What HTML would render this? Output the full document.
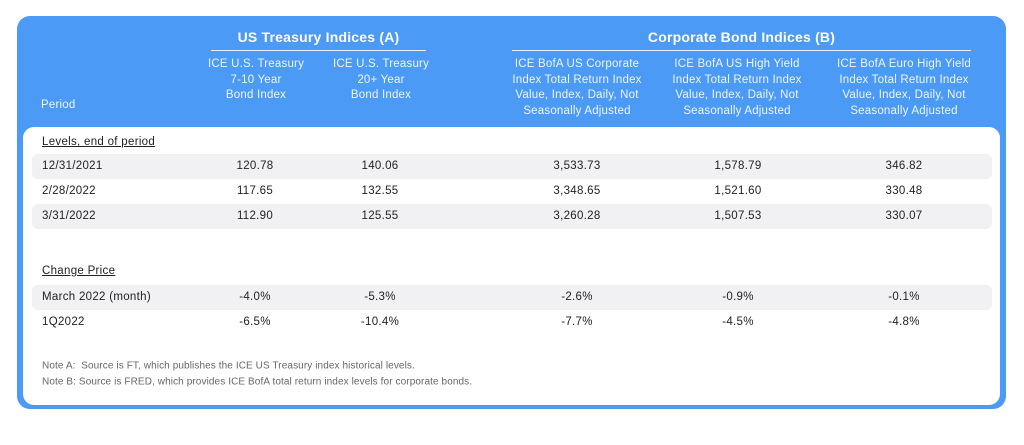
<!DOCTYPE html>
<html><head><meta charset="utf-8"><style>
body{margin:0;width:1024px;height:445px;background:#fff;font-family:"Liberation Sans",sans-serif;position:relative;overflow:hidden}
.abs{position:absolute}
#outer{left:17px;top:16px;width:989px;height:393px;background:#4a9af6;border-radius:13px}
#inner{left:23px;top:127px;width:977px;height:278px;background:#fff;border-radius:11px}
.h{color:#fff;font-weight:bold;font-size:14px;text-align:center;letter-spacing:0.2px}
.sub{color:#eef5ff;font-size:11.5px;line-height:15.5px;text-align:center;transform:translateX(-50%);letter-spacing:0.2px}
.line{height:1px;background:#e8f2ff}
.stripe{left:32px;width:960px;height:25px;background:#f1f1f4;border-radius:6px}
.t{font-size:11.5px;color:#222;transform:translate(-50%,-50%);white-space:nowrap;letter-spacing:0.3px}
.l{font-size:11.5px;color:#222;transform:translateY(-50%);white-space:nowrap;letter-spacing:0.3px}
.u{text-decoration:underline}
.note{font-size:10px;color:#666;white-space:nowrap;transform:translateY(-50%);letter-spacing:0.1px}
</style></head><body>
<div id="outer" class="abs"></div>
<div id="inner" class="abs"></div>
<div class="abs h" style="left:211px;top:29px;width:215px">US Treasury Indices (A)</div>
<div class="abs line" style="left:211px;top:50px;width:215px"></div>
<div class="abs h" style="left:512px;top:29px;width:459px">Corporate Bond Indices (B)</div>
<div class="abs line" style="left:512px;top:50px;width:459px"></div>
<div class="abs sub" style="left:41px;top:98px;transform:none">Period</div>
<div class="abs sub" style="left:256px;top:57px;width:130px">ICE U.S. Treasury<br>7-10 Year<br>Bond Index</div>
<div class="abs sub" style="left:381px;top:57px;width:130px">ICE U.S. Treasury<br>20+ Year<br>Bond Index</div>
<div class="abs sub" style="left:577px;top:57px;width:160px">ICE BofA US Corporate<br>Index Total Return Index<br>Value, Index, Daily, Not<br>Seasonally Adjusted</div>
<div class="abs sub" style="left:737px;top:57px;width:160px">ICE BofA US High Yield<br>Index Total Return Index<br>Value, Index, Daily, Not<br>Seasonally Adjusted</div>
<div class="abs sub" style="left:904px;top:57px;width:160px">ICE BofA Euro High Yield<br>Index Total Return Index<br>Value, Index, Daily, Not<br>Seasonally Adjusted</div>
<div class="abs stripe" style="top:154px"></div>
<div class="abs stripe" style="top:204px"></div>
<div class="abs stripe" style="top:285px"></div>
<div id="rows"></div>
<div class="abs l u" style="left:42px;top:142px">Levels, end of period</div>
<div class="abs l u" style="left:42px;top:271px">Change Price</div>
<div class="abs note" style="left:42px;top:366px">Note A:&nbsp; Source is FT, which publishes the ICE US Treasury index historical levels.</div>
<div class="abs note" style="left:42px;top:382px">Note B: Source is FRED, which provides ICE BofA total return index levels for corporate bonds.</div>
<script>
const periods=["12/31/2021","2/28/2022","3/31/2022","March 2022 (month)","1Q2022"];
const treasury710=["120.78","117.65","112.90","-4.0%","-6.5%"];
const treasury20=["140.06","132.55","125.55","-5.3%","-10.4%"];
const usCorp=["3,533.73","3,348.65","3,260.28","-2.6%","-7.7%"];
const usHY=["1,578.79","1,521.60","1,507.53","-0.9%","-4.5%"];
const euroHY=["346.82","330.48","330.07","-0.1%","-4.8%"];
const rowY=[166,191,216,297,322];
const colX=[255,380,577,738,904];
const cols=[treasury710,treasury20,usCorp,usHY,euroHY];
const root=document.getElementById('rows');
periods.forEach((p,i)=>{
  const d=document.createElement('div');
  d.className='abs l';d.style.left='42px';d.style.top=rowY[i]+'px';d.textContent=p;
  
  
  root.appendChild(d);
  cols.forEach((c,j)=>{
    const e=document.createElement('div');
    e.className='abs t';e.style.left=colX[j]+'px';e.style.top=rowY[i]+'px';e.textContent=c[i];
    
    
    root.appendChild(e);
  });
});
</script>
</body></html>
